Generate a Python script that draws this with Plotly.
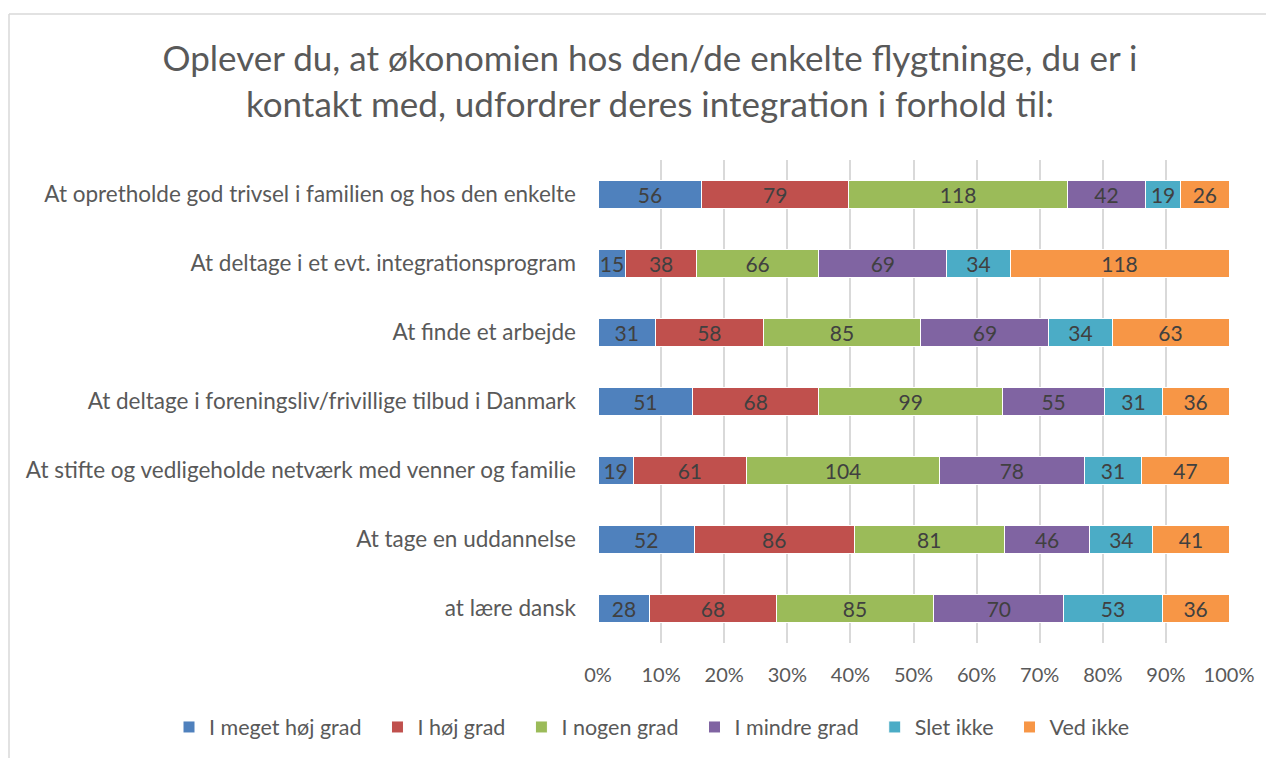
import plotly.graph_objects as go

categories = [
    "At opretholde god trivsel i familien og hos den enkelte",
    "At deltage i et evt. integrationsprogram",
    "At finde et arbejde",
    "At deltage i foreningsliv/frivillige tilbud i Danmark",
    "At stifte og vedligeholde netværk med venner og familie",
    "At tage en uddannelse",
    "at lære dansk",
]
series_names = ["I meget høj grad", "I høj grad", "I nogen grad", "I mindre grad", "Slet ikke", "Ved ikke"]
meget_hoej = [56, 15, 31, 51, 19, 52, 28]
hoej = [79, 38, 58, 68, 61, 86, 68]
nogen = [118, 66, 85, 99, 104, 81, 85]
mindre = [42, 69, 69, 55, 78, 46, 70]
slet_ikke = [19, 34, 34, 31, 31, 34, 53]
ved_ikke = [26, 118, 63, 36, 47, 41, 36]
series_values = [meget_hoej, hoej, nogen, mindre, slet_ikke, ved_ikke]
colors = ["#4F81BD", "#C0504D", "#9BBB59", "#8064A2", "#4BACC6", "#F79646"]
tick_vals = [0, 10, 20, 30, 40, 50, 60, 70, 80, 90, 100]
tick_text = [f"{v}%" for v in tick_vals]

FONT = "Lato"
PAD = "\u00a0\u00a0"

fig = go.Figure()
for name, vals, col in zip(series_names, series_values, colors):
    fig.add_trace(go.Bar(
        y=categories, x=vals, name=name + PAD, orientation="h",
        marker=dict(color=col, line=dict(color="white", width=1)),
        text=[str(v) for v in vals], textposition="inside",
        insidetextanchor="middle", textangle=0,
        textfont=dict(family=FONT, size=21, color="#404040"),
        hoverinfo="x+y",
    ))

# figure coordinates (page is offset by the 8px body margin)
L, R, T, B = 590, 53, 152, 123
W, H = 1274, 758
pw, ph = W - L - R, H - T - B

fig.update_layout(
    barmode="stack", barnorm="percent", bargap=0.59,
    width=W, height=H,
    margin=dict(l=L, r=R, t=T, b=B),
    paper_bgcolor="white", plot_bgcolor="white",
    font=dict(family=FONT, color="#595959"),
    uniformtext=dict(minsize=21, mode="show"),
    title=dict(
        text="Oplever du, at økonomien hos den/de enkelte flygtninge, du er i<br>kontakt med, udfordrer deres integration i forhold til:",
        x=642 / W, xref="container", xanchor="center",
        y=1 - 63 / H, yref="container", yanchor="middle",
        font=dict(family=FONT, size=35, color="#595959"),
    ),
    xaxis=dict(
        range=[0, 100], tickvals=tick_vals, ticktext=tick_text,
        showgrid=True, gridcolor="#D9D9D9", gridwidth=1.5,
        zeroline=False, showline=False,
        tickfont=dict(family=FONT, size=20, color="#595959"),
        ticks="", ticklabelstandoff=18,
    ),
    yaxis=dict(
        categoryorder="array", categoryarray=categories[::-1],
        showgrid=False, zeroline=False, showline=False,
        tickfont=dict(family=FONT, size=22.5, color="#595959"),
        ticks="", ticklabelstandoff=21,
    ),
    legend=dict(
        orientation="h", xref="paper", x=(161 - L) / pw, xanchor="left",
        yref="paper", y=(ph - (719 - T)) / ph, yanchor="middle",
        font=dict(family=FONT, size=21.5, color="#595959"),
        traceorder="normal",
    ),
    showlegend=True,
)

# chart frame (top and left border)
x_left = (1 - L) / pw
y_top = 1 + (T - 6) / ph
fig.add_shape(type="line", xref="paper", yref="paper", x0=x_left, x1=(W - L) / pw, y0=y_top, y1=y_top,
              line=dict(color="#D9D9D9", width=1.5))
fig.add_shape(type="line", xref="paper", yref="paper", x0=x_left, x1=x_left, y0=y_top, y1=-B / ph,
              line=dict(color="#D9D9D9", width=1.5))

fig.write_html("out.html")
